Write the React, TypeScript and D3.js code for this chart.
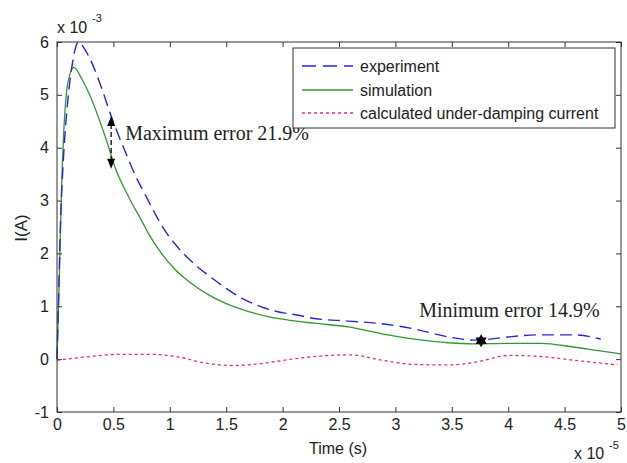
import * as d3 from "d3";
import { useEffect, useRef } from "react";

// time in units of 1e-5 s, current in units of 1e-3 A
const expX = [0, 0.01, 0.03, 0.06, 0.09, 0.13, 0.19, 0.25, 0.31, 0.4, 0.48, 0.6, 0.7, 0.78, 0.87, 0.96, 1.05, 1.13, 1.25, 1.37, 1.5, 1.64, 1.8, 1.93, 2.14, 2.28, 2.58, 2.88, 3.17, 3.47, 3.7, 3.8, 4.0, 4.29, 4.58, 4.82];
const expY = [0, 0.8, 2.5, 3.9, 4.76, 5.5, 6.0, 5.85, 5.6, 5.1, 4.6, 3.95, 3.45, 3.12, 2.75, 2.42, 2.17, 1.98, 1.74, 1.54, 1.34, 1.15, 1.0, 0.91, 0.83, 0.77, 0.72, 0.67, 0.57, 0.42, 0.36, 0.37, 0.42, 0.46, 0.46, 0.38];

const simX = [0, 0.02, 0.04, 0.06, 0.1, 0.15, 0.22, 0.3, 0.38, 0.46, 0.51, 0.64, 0.75, 0.81, 0.92, 1.04, 1.18, 1.34, 1.5, 1.7, 1.88, 2.05, 2.28, 2.58, 2.88, 3.17, 3.47, 3.7, 4.0, 4.29, 4.58, 4.8, 5.0];
const simY = [0, 1.5, 3.2, 4.3, 5.27, 5.52, 5.3, 4.95, 4.5, 4.0, 3.66, 3.05, 2.62, 2.38, 2.02, 1.71, 1.45, 1.22, 1.05, 0.9, 0.8, 0.74, 0.68, 0.61, 0.48, 0.38, 0.31, 0.29, 0.3, 0.3, 0.23, 0.16, 0.1];

const calcX = [0, 0.25, 0.55, 0.84, 1.08, 1.28, 1.55, 1.79, 2.08, 2.41, 2.61, 2.88, 3.17, 3.47, 3.73, 4.0, 4.29, 4.58, 4.97];
const calcY = [-0.02, 0.04, 0.09, 0.09, 0.04, -0.06, -0.12, -0.09, 0, 0.07, 0.08, -0.02, -0.1, -0.11, -0.05, 0.07, 0.05, -0.02, -0.11];

const xTicks = [0, 0.5, 1, 1.5, 2, 2.5, 3, 3.5, 4, 4.5, 5];
const yTicks = [-1, 0, 1, 2, 3, 4, 5, 6];

const legendNames = ["experiment", "simulation", "calculated under-damping current"];

// annotations
const maxErr = { x: 0.48, top: 4.6, bottom: 3.6, label: "Maximum error 21.9%" };
const minErr = { x: 3.76, y: 0.35, label: "Minimum error 14.9%" };

const sans = "'Liberation Sans', Arial, sans-serif";
const serif = "'Liberation Serif', 'Times New Roman', serif";

export default function App() {
    const refX = useRef(null)
    const refY = useRef(null)
    const refTop = useRef(null)
    const refRight = useRef(null)

    const W = 627, H = 463
    const margin = { left: 57, top: 42, right: 6, bottom: 51 }
    const width = W - margin.left - margin.right
    const height = H - margin.top - margin.bottom

    const X = d3.scaleLinear().domain([0, 5]).range([0, width])
    const Y = d3.scaleLinear().domain([-1, 6]).range([height, 0])

    const line = d3.line<[number, number]>()
        .x(d => X(d[0]))
        .y(d => Y(d[1]))
        .curve(d3.curveMonotoneX)

    const expPath = line(expX.map((x, i) => [x, expY[i]]))
    const simPath = line(simX.map((x, i) => [x, simY[i]]))
    const calcPath = line(calcX.map((x, i) => [x, calcY[i]]))

    useEffect(() => {
        document.body.style.margin = "0"

        const style = (g) => {
            g.select(".domain").remove()
            g.selectAll("line").attr("stroke", "#333")
            g.selectAll("text")
                .style("font-family", sans)
                .style("font-size", "16px")
                .attr("fill", "#222")
        }

        d3.select(refX.current)
            .call(d3.axisBottom(X).tickValues(xTicks).tickSize(-5).tickSizeOuter(0).tickPadding(7)
                .tickFormat(d => String(d)))
            .call(style)

        d3.select(refY.current)
            .call(d3.axisLeft(Y).tickValues(yTicks).tickSize(-5).tickSizeOuter(0).tickPadding(8)
                .tickFormat(d => String(d)))
            .call(style)

        d3.select(refTop.current)
            .call(d3.axisTop(X).tickValues(xTicks).tickSize(-5).tickSizeOuter(0).tickFormat(() => ""))
            .call(style)

        d3.select(refRight.current)
            .call(d3.axisRight(Y).tickValues(yTicks).tickSize(-5).tickSizeOuter(0).tickFormat(() => ""))
            .call(style)
    }, [])

    // arrow geometry
    const ax = X(maxErr.x), ay1 = Y(maxErr.top), ay2 = Y(maxErr.bottom)
    const sx = X(minErr.x), sy = Y(minErr.y)
    const star = (r) => {
        const tri = (off) => d3.range(3).map(k => {
            const a = off + k * 2 * Math.PI / 3
            return `${sx + r * Math.sin(a)},${sy - r * Math.cos(a)}`
        }).join(" ")
        return [tri(0), tri(Math.PI)]
    }

    const legX = 293 - margin.left, legY = 48 - margin.top
    const legRows = [66, 90, 113].map(v => v - margin.top)

    return (
        <svg width={W} height={H} style={{ display: "block", position: "absolute", left: 0, top: 0, background: "#fff" }}>
            <g transform={`translate(${margin.left},${margin.top})`}>
                <path d={calcPath} fill="none" stroke="#f0304a" strokeWidth={1.3} strokeDasharray="3,3" />
                <path d={simPath} fill="none" stroke="#2f9a2f" strokeWidth={1.3} />
                <path d={expPath} fill="none" stroke="#2525e0" strokeWidth={1.4} strokeDasharray="12,6" />

                {/* maximum error arrow */}
                <line x1={ax} x2={ax} y1={ay1 + 8} y2={ay2 - 8} stroke="#000" strokeWidth={1.3} strokeDasharray="5,3" />
                <polygon points={`${ax},${ay1} ${ax - 4},${ay1 + 10} ${ax + 4},${ay1 + 10}`} fill="#000" />
                <polygon points={`${ax},${ay2} ${ax - 4},${ay2 - 10} ${ax + 4},${ay2 - 10}`} fill="#000" />
                <text x={ax + 14} y={140 - margin.top} fontFamily={serif} fontSize={20} fill="#222">{maxErr.label}</text>

                {/* minimum error star */}
                {star(6.5).map((p, i) => <polygon key={i} points={p} fill="#000" />)}
                <text x={sx - 62} y={317 - margin.top} fontFamily={serif} fontSize={20} fill="#222">{minErr.label}</text>

                <g ref={refX} transform={`translate(0,${height})`}></g>
                <g ref={refY}></g>
                <g ref={refTop}></g>
                <g ref={refRight} transform={`translate(${width},0)`}></g>
                <rect x={0} y={0} width={width} height={height} fill="none" stroke="#333" strokeWidth={1} />

                {/* legend */}
                <rect x={legX} y={legY} width={615 - 293} height={128 - 48} fill="#fff" stroke="#333" strokeWidth={1} />
                {legendNames.map((name, i) => (
                    <g key={name}>
                        <line x1={legX + 9} x2={legX + 60} y1={legRows[i]} y2={legRows[i]}
                            stroke={["#2525e0", "#2f9a2f", "#f0304a"][i]}
                            strokeWidth={1.3}
                            strokeDasharray={["14,7", "none", "3,3"][i]} />
                        <text x={legX + 67} y={legRows[i] + 6} fontFamily={sans} fontSize={16} fill="#222">{name}</text>
                    </g>
                ))}
            </g>

            {/* exponents and axis titles */}
            <text x={57} y={33} fontFamily={sans} fontSize={16} fill="#222">x 10</text>
            <text x={92} y={22} fontFamily={sans} fontSize={11} fill="#222">-3</text>
            <text x={574} y={459} fontFamily={sans} fontSize={16} fill="#222">x 10</text>
            <text x={609} y={449} fontFamily={sans} fontSize={11} fill="#222">-5</text>
            <text x={338} y={454} textAnchor="middle" fontFamily={sans} fontSize={16} fill="#222">Time (s)</text>
            <text transform="translate(27,228) rotate(-90)" textAnchor="middle" fontFamily={sans} fontSize={17} fill="#222">I(A)</text>
        </svg>
    )
}
